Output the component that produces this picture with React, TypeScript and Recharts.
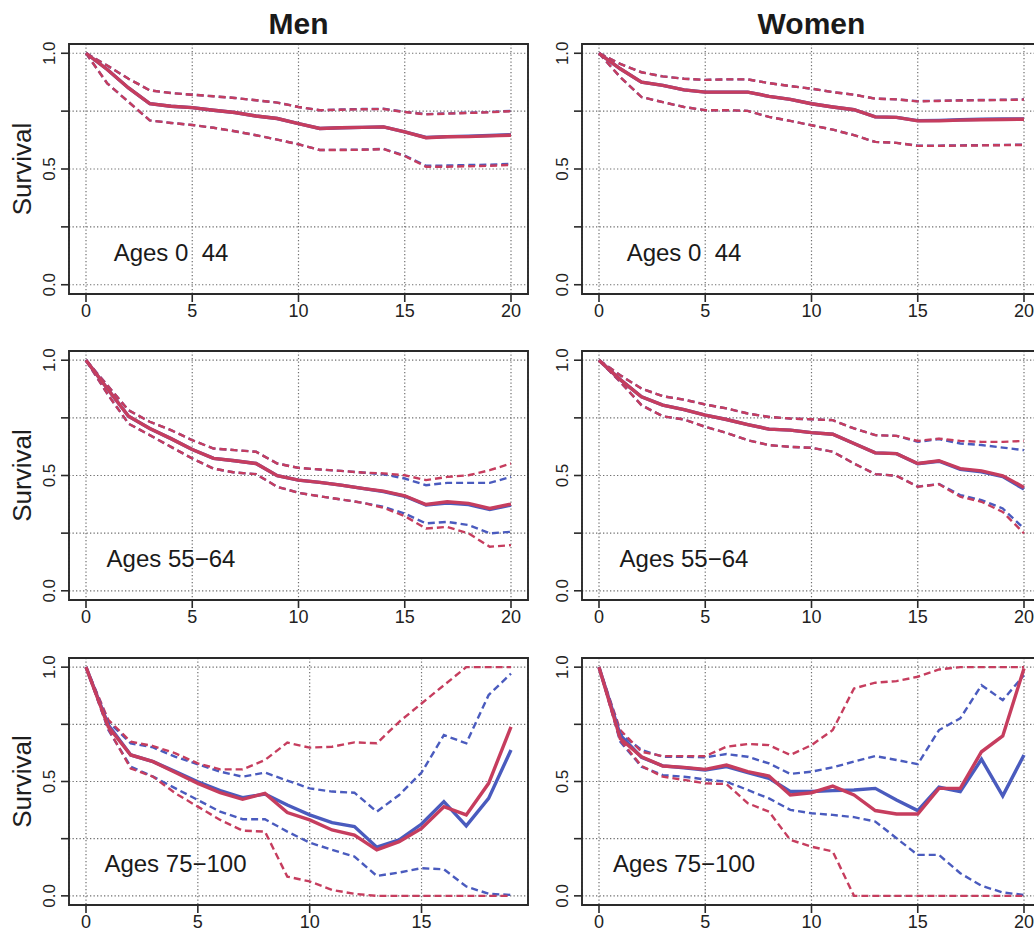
import React from "react";
import {
  LineChart,
  Line,
  XAxis,
  YAxis,
  CartesianGrid,
  ReferenceArea,
  ReferenceDot,
} from "recharts";

const FONT = '"Liberation Sans", Arial, Helvetica, sans-serif';
const RED = "#C63D5E";
const BLUE = "#4A5BBE";
const INK = "#222222";

// ---------- categories ----------
const years20 = [0, 1, 2, 3, 4, 5, 6, 7, 8, 9, 10, 11, 12, 13, 14, 15, 16, 17, 18, 19, 20];
const years19 = [0, 1, 2, 3, 4, 5, 6, 7, 8, 9, 10, 11, 12, 13, 14, 15, 16, 17, 18, 19];
const xTicks20 = [0, 5, 10, 15, 20];
const xTicks19 = [0, 5, 10, 15];
const yTicks = [0, 0.25, 0.5, 0.75, 1];
const columnTitles = ["Men", "Women"];
const yLabel = "Survival";
const panelLabels = ["Ages 0\u00A0\u00A044", "Ages 55\u221264", "Ages 75\u2212100"];

// ---------- Men, ages 0-44 ----------
const menA_redMid = [1.0, 0.93, 0.85, 0.782, 0.771, 0.765, 0.754, 0.744, 0.729, 0.718, 0.696, 0.675, 0.678, 0.68, 0.682, 0.66, 0.635, 0.639, 0.64, 0.643, 0.646];
const menA_redHi = [1.0, 0.947, 0.89, 0.84, 0.828, 0.821, 0.814, 0.807, 0.797, 0.787, 0.768, 0.754, 0.756, 0.758, 0.759, 0.746, 0.736, 0.739, 0.742, 0.745, 0.75];
const menA_redLo = [1.0, 0.87, 0.79, 0.71, 0.699, 0.69, 0.678, 0.663, 0.646, 0.627, 0.607, 0.582, 0.582, 0.583, 0.586, 0.556, 0.51, 0.51, 0.512, 0.514, 0.518];
const menA_blueMid = [1.0, 0.93, 0.85, 0.782, 0.771, 0.765, 0.754, 0.744, 0.729, 0.718, 0.696, 0.675, 0.678, 0.68, 0.682, 0.66, 0.636, 0.64, 0.642, 0.645, 0.648];
const menA_blueHi = [1.0, 0.947, 0.89, 0.84, 0.828, 0.821, 0.814, 0.807, 0.797, 0.787, 0.768, 0.754, 0.757, 0.759, 0.76, 0.747, 0.737, 0.74, 0.743, 0.746, 0.751];
const menA_blueLo = [1.0, 0.87, 0.79, 0.71, 0.699, 0.69, 0.678, 0.663, 0.646, 0.627, 0.607, 0.582, 0.583, 0.584, 0.587, 0.558, 0.514, 0.515, 0.517, 0.519, 0.522];

// ---------- Women, ages 0-44 ----------
const womenA_redMid = [1.0, 0.933, 0.875, 0.861, 0.842, 0.832, 0.832, 0.832, 0.814, 0.801, 0.782, 0.768, 0.756, 0.725, 0.723, 0.708, 0.708, 0.711, 0.713, 0.714, 0.715];
const womenA_redHi = [1.0, 0.954, 0.918, 0.9, 0.89, 0.885, 0.887, 0.887, 0.871, 0.858, 0.847, 0.832, 0.821, 0.804, 0.801, 0.792, 0.794, 0.796, 0.797, 0.798, 0.8];
const womenA_redLo = [1.0, 0.897, 0.811, 0.789, 0.768, 0.754, 0.754, 0.751, 0.725, 0.708, 0.689, 0.67, 0.646, 0.617, 0.613, 0.6, 0.6, 0.601, 0.602, 0.603, 0.604];
const womenA_blueMid = [1.0, 0.933, 0.875, 0.861, 0.842, 0.832, 0.832, 0.832, 0.814, 0.801, 0.782, 0.768, 0.756, 0.725, 0.723, 0.709, 0.71, 0.713, 0.715, 0.716, 0.716];
const womenA_blueHi = [1.0, 0.954, 0.918, 0.9, 0.89, 0.885, 0.887, 0.887, 0.871, 0.858, 0.847, 0.832, 0.821, 0.804, 0.801, 0.793, 0.795, 0.797, 0.798, 0.799, 0.801];
const womenA_blueLo = [1.0, 0.897, 0.811, 0.789, 0.768, 0.754, 0.754, 0.751, 0.725, 0.708, 0.689, 0.67, 0.646, 0.617, 0.613, 0.601, 0.601, 0.602, 0.603, 0.604, 0.605];

// ---------- Men, ages 55-64 ----------
const menB_redMid = [1.0, 0.877, 0.757, 0.704, 0.66, 0.613, 0.574, 0.564, 0.552, 0.499, 0.48, 0.47, 0.458, 0.444, 0.432, 0.412, 0.374, 0.386, 0.379, 0.357, 0.376];
const menB_redHi = [1.0, 0.892, 0.783, 0.733, 0.697, 0.653, 0.617, 0.61, 0.603, 0.552, 0.533, 0.526, 0.52, 0.513, 0.509, 0.501, 0.48, 0.494, 0.501, 0.523, 0.552];
const menB_redLo = [1.0, 0.855, 0.725, 0.675, 0.624, 0.574, 0.53, 0.513, 0.506, 0.451, 0.425, 0.41, 0.396, 0.382, 0.36, 0.324, 0.27, 0.277, 0.249, 0.191, 0.198];
const menB_blueMid = [1.0, 0.877, 0.757, 0.704, 0.66, 0.613, 0.574, 0.564, 0.552, 0.499, 0.48, 0.47, 0.458, 0.444, 0.43, 0.41, 0.372, 0.381, 0.374, 0.352, 0.372];
const menB_blueHi = [1.0, 0.892, 0.783, 0.733, 0.697, 0.653, 0.617, 0.61, 0.603, 0.552, 0.533, 0.526, 0.52, 0.513, 0.505, 0.487, 0.458, 0.468, 0.468, 0.468, 0.494];
const menB_blueLo = [1.0, 0.855, 0.725, 0.675, 0.624, 0.574, 0.53, 0.513, 0.506, 0.451, 0.425, 0.41, 0.396, 0.382, 0.364, 0.335, 0.292, 0.299, 0.285, 0.249, 0.256];

// ---------- Women, ages 55-64 ----------
const womenB_redMid = [1.0, 0.916, 0.841, 0.805, 0.786, 0.762, 0.743, 0.721, 0.701, 0.697, 0.686, 0.679, 0.639, 0.598, 0.595, 0.552, 0.564, 0.53, 0.52, 0.499, 0.448];
const womenB_redHi = [1.0, 0.935, 0.877, 0.844, 0.829, 0.808, 0.791, 0.769, 0.754, 0.747, 0.744, 0.74, 0.704, 0.675, 0.672, 0.65, 0.66, 0.65, 0.646, 0.646, 0.65];
const womenB_redLo = [1.0, 0.906, 0.805, 0.757, 0.743, 0.711, 0.685, 0.653, 0.632, 0.624, 0.62, 0.603, 0.552, 0.506, 0.499, 0.451, 0.462, 0.408, 0.386, 0.342, 0.249];
const womenB_blueMid = [1.0, 0.916, 0.841, 0.805, 0.786, 0.762, 0.743, 0.721, 0.701, 0.697, 0.686, 0.679, 0.639, 0.598, 0.595, 0.551, 0.562, 0.527, 0.516, 0.495, 0.441];
const womenB_blueHi = [1.0, 0.935, 0.877, 0.844, 0.829, 0.808, 0.791, 0.769, 0.754, 0.747, 0.744, 0.74, 0.704, 0.675, 0.672, 0.646, 0.658, 0.639, 0.632, 0.621, 0.61];
const womenB_blueLo = [1.0, 0.906, 0.805, 0.757, 0.743, 0.711, 0.685, 0.653, 0.632, 0.624, 0.62, 0.603, 0.552, 0.506, 0.499, 0.452, 0.463, 0.415, 0.393, 0.357, 0.27];

// ---------- Men, ages 75-100 (years 0-19) ----------
const menC_redMid = [1.0, 0.739, 0.616, 0.587, 0.539, 0.492, 0.451, 0.422, 0.448, 0.364, 0.332, 0.288, 0.266, 0.201, 0.237, 0.295, 0.39, 0.354, 0.492, 0.739];
const menC_redHi = [1.0, 0.769, 0.674, 0.655, 0.623, 0.579, 0.553, 0.553, 0.594, 0.67, 0.648, 0.652, 0.671, 0.667, 0.761, 0.841, 0.921, 1.0, 1.0, 1.0];
const menC_redLo = [1.0, 0.73, 0.557, 0.521, 0.448, 0.39, 0.332, 0.285, 0.281, 0.084, 0.063, 0.026, 0.009, 0.0, 0.0, 0.0, 0.0, 0.0, 0.0, 0.0];
const menC_blueMid = [1.0, 0.747, 0.616, 0.587, 0.543, 0.499, 0.46, 0.429, 0.445, 0.397, 0.354, 0.32, 0.303, 0.213, 0.245, 0.314, 0.412, 0.306, 0.426, 0.638];
const menC_blueHi = [1.0, 0.761, 0.667, 0.649, 0.608, 0.575, 0.543, 0.521, 0.539, 0.504, 0.47, 0.456, 0.451, 0.368, 0.441, 0.539, 0.703, 0.667, 0.878, 0.972];
const menC_blueLo = [1.0, 0.725, 0.565, 0.521, 0.47, 0.419, 0.368, 0.335, 0.335, 0.281, 0.233, 0.201, 0.172, 0.087, 0.102, 0.121, 0.116, 0.041, 0.009, 0.004];

// ---------- Women, ages 75-100 ----------
const womenC_redMid = [1.0, 0.688, 0.608, 0.568, 0.562, 0.553, 0.572, 0.543, 0.524, 0.441, 0.451, 0.48, 0.441, 0.373, 0.358, 0.358, 0.47, 0.47, 0.63, 0.699, 0.994];
const womenC_redHi = [1.0, 0.725, 0.63, 0.611, 0.611, 0.611, 0.652, 0.664, 0.659, 0.616, 0.659, 0.725, 0.907, 0.932, 0.939, 0.958, 0.99, 1.0, 1.0, 1.0, 1.0];
const womenC_redLo = [1.0, 0.681, 0.568, 0.521, 0.507, 0.492, 0.489, 0.405, 0.368, 0.245, 0.215, 0.194, 0.0, 0.0, 0.0, 0.0, 0.0, 0.0, 0.0, 0.0, 0.0];
const womenC_blueMid = [1.0, 0.703, 0.606, 0.568, 0.56, 0.55, 0.565, 0.539, 0.514, 0.456, 0.456, 0.46, 0.463, 0.47, 0.419, 0.373, 0.475, 0.456, 0.597, 0.437, 0.616];
const womenC_blueHi = [1.0, 0.71, 0.638, 0.608, 0.608, 0.606, 0.62, 0.608, 0.579, 0.533, 0.543, 0.562, 0.587, 0.611, 0.594, 0.576, 0.725, 0.776, 0.921, 0.856, 0.965];
const womenC_blueLo = [1.0, 0.674, 0.565, 0.528, 0.521, 0.509, 0.499, 0.463, 0.426, 0.376, 0.361, 0.354, 0.344, 0.325, 0.252, 0.179, 0.179, 0.099, 0.044, 0.015, 0.004];

type Row = { [k: string]: number };

function buildRows(
  years: number[],
  rMid: number[], rHi: number[], rLo: number[],
  bMid: number[], bHi: number[], bLo: number[]
): Row[] {
  return years.map((t, i) => ({
    t,
    rMid: rMid[i], rHi: rHi[i], rLo: rLo[i],
    bMid: bMid[i], bHi: bHi[i], bLo: bLo[i],
  }));
}

const XTick = (props: any) => {
  const { x, y, payload } = props;
  return (
    <text x={x} y={y} dy="0.72em" textAnchor="middle" fontSize={18} fill={INK} fontFamily={FONT}>
      {String(payload.value)}
    </text>
  );
};

const YTick = (props: any) => {
  const { x, y, payload } = props;
  const v = payload.value;
  const txt = v === 0 ? "0.0" : v === 0.5 ? "0.5" : v === 1 ? "1.0" : "";
  if (!txt) return <g />;
  return (
    <text
      x={x}
      y={y}
      transform={`rotate(-90 ${x} ${y})`}
      textAnchor="middle"
      fontSize={17}
      fill={INK}
      fontFamily={FONT}
    >
      {txt}
    </text>
  );
};

type PanelProps = {
  left: number;
  top: number;
  frameH: number;
  xMax: number;
  xTicks: number[];
  rows: Row[];
  label: string;
};

function Panel({ left, top, frameH, xMax, xTicks, rows, label }: PanelProps) {
  const pad = xMax * 0.04;
  const dash = "7 4";
  const common = { dot: false, activeDot: false, isAnimationActive: false, type: "linear" as const };
  return (
    <div style={{ position: "absolute", left, top }}>
      <LineChart
        width={540}
        height={frameH + 10 + 40}
        data={rows}
        margin={{ top: 10, right: 12, bottom: 0, left: 0 }}
      >
        <CartesianGrid stroke="#6f6f6f" strokeDasharray="1.3 2.2" strokeWidth={1.2} />
        <XAxis
          dataKey="t"
          type="number"
          domain={[-pad, xMax + pad]}
          ticks={xTicks}
          interval={0}
          allowDataOverflow
          axisLine={false}
          tickLine={{ stroke: "#2a2a2a", strokeWidth: 1.6 }}
          tickSize={8}
          tickMargin={2}
          height={40}
          tick={<XTick />}
        />
        <YAxis
          type="number"
          domain={[-0.04, 1.04]}
          ticks={yTicks}
          interval={0}
          allowDataOverflow
          axisLine={false}
          tickLine={{ stroke: "#2a2a2a", strokeWidth: 1.6 }}
          tickSize={8}
          tickMargin={6}
          width={69}
          tick={<YTick />}
        />
        <Line dataKey="bLo" stroke={BLUE} strokeWidth={2.4} strokeDasharray={dash} {...common} />
        <Line dataKey="bHi" stroke={BLUE} strokeWidth={2.4} strokeDasharray={dash} {...common} />
        <Line dataKey="rLo" stroke={RED} strokeWidth={2.4} strokeDasharray={dash} {...common} />
        <Line dataKey="rHi" stroke={RED} strokeWidth={2.4} strokeDasharray={dash} {...common} />
        <Line dataKey="bMid" stroke={BLUE} strokeWidth={3.4} {...common} />
        <Line dataKey="rMid" stroke={RED} strokeWidth={3.4} {...common} />
        <ReferenceArea
          x1={-pad}
          x2={xMax + pad}
          y1={-0.04}
          y2={1.04}
          fill="none"
          fillOpacity={0}
          stroke="#2a2a2a"
          strokeWidth={1.9}
          ifOverflow="visible"
        />
        <ReferenceDot
          x={4}
          y={0.14}
          r={0}
          fill="none"
          stroke="none"
          ifOverflow="visible"
          label={{ value: label, position: "center", fontSize: 24, fill: "#1a1a1a", fontFamily: FONT }}
        />
      </LineChart>
    </div>
  );
}

const rowsMenA = buildRows(years20, menA_redMid, menA_redHi, menA_redLo, menA_blueMid, menA_blueHi, menA_blueLo);
const rowsWomenA = buildRows(years20, womenA_redMid, womenA_redHi, womenA_redLo, womenA_blueMid, womenA_blueHi, womenA_blueLo);
const rowsMenB = buildRows(years20, menB_redMid, menB_redHi, menB_redLo, menB_blueMid, menB_blueHi, menB_blueLo);
const rowsWomenB = buildRows(years20, womenB_redMid, womenB_redHi, womenB_redLo, womenB_blueMid, womenB_blueHi, womenB_blueLo);
const rowsMenC = buildRows(years19, menC_redMid, menC_redHi, menC_redLo, menC_blueMid, menC_blueHi, menC_blueLo);
const rowsWomenC = buildRows(years20, womenC_redMid, womenC_redHi, womenC_redLo, womenC_blueMid, womenC_blueHi, womenC_blueLo);

const ROWS = [
  { frameTop: 44, frameH: 250 },
  { frameTop: 351, frameH: 249 },
  { frameTop: 658, frameH: 247 },
];
const COL_LEFT = [0, 513];

export default function App() {
  return (
    <div
      style={{
        position: "absolute",
        left: 0,
        top: 0,
        width: 1034,
        height: 931,
        overflow: "hidden",
        background: "#ffffff",
        fontFamily: FONT,
      }}
    >
      <Panel left={COL_LEFT[0]} top={ROWS[0].frameTop - 10} frameH={ROWS[0].frameH} xMax={20} xTicks={xTicks20} rows={rowsMenA} label={panelLabels[0]} />
      <Panel left={COL_LEFT[1]} top={ROWS[0].frameTop - 10} frameH={ROWS[0].frameH} xMax={20} xTicks={xTicks20} rows={rowsWomenA} label={panelLabels[0]} />
      <Panel left={COL_LEFT[0]} top={ROWS[1].frameTop - 10} frameH={ROWS[1].frameH} xMax={20} xTicks={xTicks20} rows={rowsMenB} label={panelLabels[1]} />
      <Panel left={COL_LEFT[1]} top={ROWS[1].frameTop - 10} frameH={ROWS[1].frameH} xMax={20} xTicks={xTicks20} rows={rowsWomenB} label={panelLabels[1]} />
      <Panel left={COL_LEFT[0]} top={ROWS[2].frameTop - 10} frameH={ROWS[2].frameH} xMax={19} xTicks={xTicks19} rows={rowsMenC} label={panelLabels[2]} />
      <Panel left={COL_LEFT[1]} top={ROWS[2].frameTop - 10} frameH={ROWS[2].frameH} xMax={20} xTicks={xTicks20} rows={rowsWomenC} label={panelLabels[2]} />
      <svg
        width={1034}
        height={931}
        style={{ position: "absolute", left: 0, top: 0, pointerEvents: "none" }}
      >
        <text x={298.5} y={34} textAnchor="middle" fontSize={30} fontWeight="bold" fill="#1a1a1a" fontFamily={FONT}>
          {columnTitles[0]}
        </text>
        <text x={811.5} y={34} textAnchor="middle" fontSize={30} fontWeight="bold" fill="#1a1a1a" fontFamily={FONT}>
          {columnTitles[1]}
        </text>
        {ROWS.map((r, i) => {
          const cy = r.frameTop + r.frameH / 2;
          return (
            <text
              key={i}
              x={31}
              y={cy}
              transform={`rotate(-90 31 ${cy})`}
              textAnchor="middle"
              fontSize={26}
              fill="#1e1e1e"
              fontFamily={FONT}
            >
              {yLabel}
            </text>
          );
        })}
      </svg>
    </div>
  );
}
